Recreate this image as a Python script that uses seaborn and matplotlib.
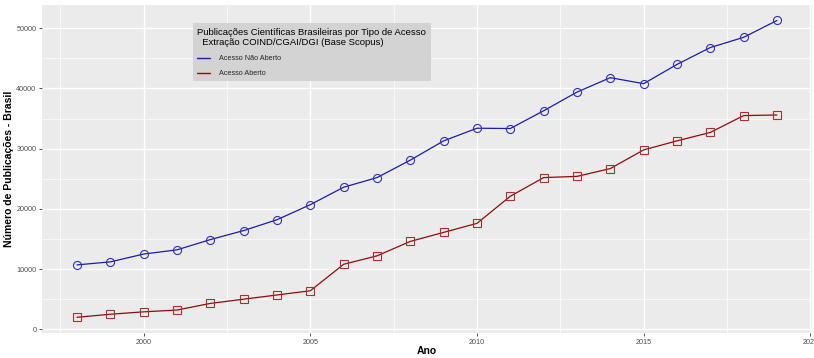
import numpy as np
import pandas as pd
import matplotlib
matplotlib.use("Agg")
import matplotlib.pyplot as plt
from matplotlib.lines import Line2D
from matplotlib.ticker import MultipleLocator
import seaborn as sns

anos = list(range(1998, 2020))
nao_aberto = [10700, 11200, 12500, 13200, 14900, 16400, 18200, 20700, 23600, 25200, 28100,
              31300, 33400, 33350, 36300, 39400, 41800, 40800, 44000, 46800, 48500, 51300]
aberto = [2000, 2500, 2900, 3200, 4300, 5000, 5700, 6400, 10800, 12200, 14600,
          16100, 17600, 22100, 25200, 25400, 26700, 29800, 31300, 32700, 35500, 35600]
series = ["Acesso Não Aberto", "Acesso Aberto"]
cores = {"Acesso Não Aberto": "#1c1ca8", "Acesso Aberto": "#8e0c0c"}
bordas = {"Acesso Não Aberto": "#3030b8", "Acesso Aberto": "#a83030"}
marcadores = {"Acesso Não Aberto": "o", "Acesso Aberto": "s"}

df = pd.DataFrame({
    "Ano": anos * 2,
    "valor": nao_aberto + aberto,
    "tipo": [series[0]] * len(anos) + [series[1]] * len(anos),
})

sns.set_theme(style="darkgrid", rc={"axes.facecolor": "#ebebeb", "grid.color": "white"})
plt.rcParams["font.family"] = ["Liberation Sans", "DejaVu Sans"]

fig = plt.figure(figsize=(8.14, 3.58), dpi=100)
ax = fig.add_axes([0.0516, 0.0698, 0.9459, 0.9162])

for nome in series:
    sub = df[df["tipo"] == nome]
    sns.lineplot(data=sub, x="Ano", y="valor", ax=ax, color=cores[nome], lw=0.9, legend=False)
    ln = ax.lines[-1]
    ln.set_marker(marcadores[nome])
    ln.set_markersize(5.8)
    ln.set_markerfacecolor("none")
    ln.set_markeredgecolor(bordas[nome])
    ln.set_markeredgewidth(0.8)

ax.set_xlim(1996.95, 2020.05)
ax.set_ylim(-617, 53867)
ax.xaxis.set_major_locator(MultipleLocator(5))
ax.xaxis.set_minor_locator(MultipleLocator(2.5))
ax.yaxis.set_major_locator(MultipleLocator(10000))
ax.yaxis.set_minor_locator(MultipleLocator(5000))
ax.grid(which="major", color="white", lw=1.0)
ax.grid(which="minor", color="white", lw=0.5)
for s in ax.spines.values():
    s.set_visible(False)
ax.tick_params(axis="both", which="major", labelsize=5.2, labelcolor="#4d4d4d",
               length=2.5, width=0.6, color="#333333", pad=1.5, bottom=True, left=True)
ax.tick_params(which="minor", length=0)
ax.set_xlabel("Ano", fontsize=7.5, fontweight="bold", labelpad=0.5, color="black")
ax.set_ylabel("Número de Publicações - Brasil", fontsize=7.5, fontweight="bold",
              labelpad=1.5, color="black")

handles = [Line2D([], [], color=cores[n], lw=1.0) for n in series]
leg = ax.legend(handles, series,
                title="Publicações Científicas Brasileiras por Tipo de Acesso\n  Extração COIND/CGAI/DGI (Base Scopus)",
                loc="upper left", bbox_to_anchor=(0.1916, 0.955), fontsize=5.2,
                title_fontsize=6.8, frameon=True, fancybox=False, borderpad=0.6,
                handlelength=1.8, labelspacing=1.1, handletextpad=1.2)
leg.get_frame().set_facecolor("#d3d3d3")
leg.get_frame().set_edgecolor("none")
leg.get_frame().set_alpha(1)
leg._legend_box.align = "left"
leg.get_title().set_color("black")

fig.savefig("out.png", dpi=100)
